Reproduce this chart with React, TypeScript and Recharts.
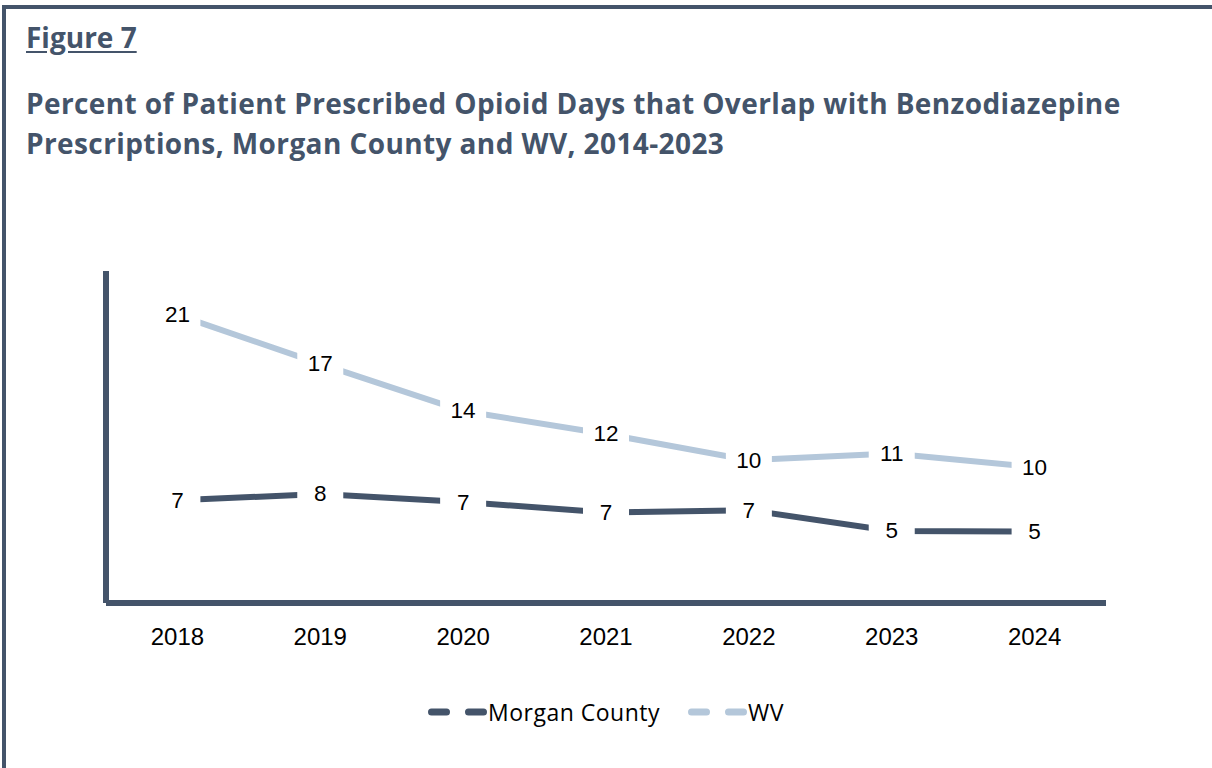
import React from 'react';
import { LineChart, Line, XAxis, YAxis, Legend, LabelList } from 'recharts';

const years = ['2018', '2019', '2020', '2021', '2022', '2023', '2024'];
const morganValues = [7.43, 7.88, 7.3, 6.55, 6.71, 5.21, 5.16];
const wvValues = [20.83, 17.28, 13.88, 12.22, 10.32, 10.81, 9.83];
const seriesNames = ['Morgan County', 'WV'];
const figureLabel = 'Figure 7';
const titleLines = [
  'Percent of Patient Prescribed Opioid Days that Overlap with Benzodiazepine',
  'Prescriptions, Morgan County and WV, 2014-2023',
];

const DARK = '#44546A';
const LIGHT = '#B4C7DA';
const NUM_FONT = '"Liberation Sans", Arial, sans-serif';
const TITLE_FONT = '"Open Sans", sans-serif';

const data = years.map((year, i) => ({ year, morgan: morganValues[i], wv: wvValues[i] }));

const renderLabel = (props: any) => {
  const x = props.x ?? props.viewBox?.x;
  const y = props.y ?? props.viewBox?.y;
  const value = props.value;
  if (x == null || y == null || value == null) return null;
  return (
    <g>
      <rect x={x - 23} y={y - 15} width={46} height={30} fill="#ffffff" />
      <text
        x={x}
        y={y}
        textAnchor="middle"
        dominantBaseline="central"
        fontSize={22.5}
        fontFamily={NUM_FONT}
        fill="#000000"
      >
        {Math.round(Number(value))}
      </text>
    </g>
  );
};

const renderLegend = () => {
  const items = [
    { name: seriesNames[0], color: DARK },
    { name: seriesNames[1], color: LIGHT },
  ];
  return (
    <div style={{ display: 'flex', justifyContent: 'center', alignItems: 'center', width: '100%' }}>
      {items.map((it, i) => (
        <div key={it.name} style={{ display: 'flex', alignItems: 'center', marginLeft: i === 0 ? 0 : 28 }}>
          <svg width={60} height={14} style={{ display: 'block' }}>
            <line
              x1={3.5}
              y1={7}
              x2={55.5}
              y2={7}
              stroke={it.color}
              strokeWidth={7}
              strokeLinecap="round"
              strokeDasharray="15 22"
            />
          </svg>
          <span
            style={{
              fontFamily: TITLE_FONT,
              fontSize: 23,
              letterSpacing: 0.5,
              color: '#000',
              marginLeft: 0,
              lineHeight: '30px',
            }}
          >
            {it.name}
          </span>
        </div>
      ))}
    </div>
  );
};

export default function App() {
  return (
    <div
      style={{
        position: 'absolute',
        left: 0,
        top: 0,
        width: 1212,
        height: 768,
        background: '#ffffff',
        overflow: 'hidden',
      }}
    >
      <div style={{ position: 'absolute', left: 2, top: 5, width: 1210, height: 4, background: DARK }} />
      <div style={{ position: 'absolute', left: 2, top: 5, width: 4, height: 763, background: DARK }} />
      <div
        style={{
          position: 'absolute',
          left: 26,
          top: 18,
          fontFamily: TITLE_FONT,
          fontWeight: 700,
          fontSize: 28,
          lineHeight: '38px',
          color: DARK,
          textDecoration: 'underline',
          textUnderlineOffset: 3,
        }}
      >
        {figureLabel}
      </div>
      <div
        style={{
          position: 'absolute',
          left: 26,
          top: 83,
          fontFamily: TITLE_FONT,
          fontWeight: 700,
          fontSize: 28,
          letterSpacing: 0.4,
          lineHeight: '40px',
          color: DARK,
          whiteSpace: 'nowrap',
        }}
      >
        {titleLines.map((t) => (
          <div key={t}>{t}</div>
        ))}
      </div>
      <div style={{ position: 'absolute', left: 0, top: 0 }}>
        <LineChart
          width={1212}
          height={768}
          data={data}
          margin={{ top: 271, right: 106, bottom: 105, left: 0 }}
        >
          <XAxis
            dataKey="year"
            axisLine={{ stroke: DARK, strokeWidth: 6 }}
            tickLine={false}
            tick={{ fontSize: 24, fill: '#000', fontFamily: NUM_FONT }}
            tickMargin={19}
            height={60}
            padding={{ left: 71.4, right: 71.4 }}
            interval={0}
          />
          <YAxis
            domain={[0, 24]}
            width={106}
            tick={false}
            tickLine={false}
            axisLine={{ stroke: DARK, strokeWidth: 6 }}
          />
          <Legend
            layout="horizontal"
            verticalAlign="middle"
            align="center"
            content={renderLegend}
            wrapperStyle={{ top: 697, left: 0, width: 1212, height: 30 }}
          />
          <Line
            type="linear"
            dataKey="morgan"
            name={seriesNames[0]}
            stroke={DARK}
            strokeWidth={6}
            dot={false}
            activeDot={false}
            isAnimationActive={false}
          >
            <LabelList dataKey="morgan" content={renderLabel} />
          </Line>
          <Line
            type="linear"
            dataKey="wv"
            name={seriesNames[1]}
            stroke={LIGHT}
            strokeWidth={6}
            dot={false}
            activeDot={false}
            isAnimationActive={false}
          >
            <LabelList dataKey="wv" content={renderLabel} />
          </Line>
        </LineChart>
      </div>
    </div>
  );
}
